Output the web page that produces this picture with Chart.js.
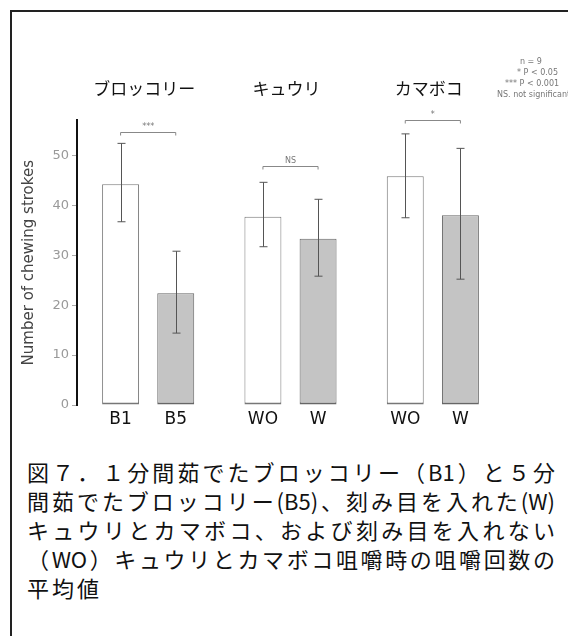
<!DOCTYPE html>
<html lang="ja">
<head>
<meta charset="utf-8">
<script src="https://cdn.jsdelivr.net/npm/chart.js@4/dist/chart.umd.min.js"></script>
<style>
  body { margin: 0; width: 568px; height: 636px; overflow: hidden; background: #fff; position: relative; }
  #frame { position: absolute; left: 10px; top: 10px; width: 600px; height: 700px; border: 2px solid #222; }
  #wrap { position: absolute; left: 0; top: 0; width: 568px; height: 440px; }
  .note { position: absolute; font: 8px "DejaVu Sans", sans-serif; color: #777; white-space: nowrap; }
  #caption { position: absolute; left: 27px; top: 457px; width: 528px; font: 22px "Noto Sans CJK JP", sans-serif; line-height: 29px; color: #111; }
  #caption div { text-align: justify; text-align-last: justify; white-space: nowrap; }
  #caption div.last { text-align-last: left; letter-spacing: 3px; }
</style>
</head>
<body>
<div id="frame"></div>
<div id="wrap"><canvas id="chewChart" width="568" height="440"></canvas></div>
<div id="notes"></div>
<div id="caption"></div>
<script>
// chart data
const groups = ['ブロッコリー', 'キュウリ', 'カマボコ'];
const labelsA = ['B1', 'WO', 'WO'];
const labelsB = ['B5', 'W', 'W'];
const meansA = [44.2, 37.7, 45.8];
const meansB = [22.4, 33.3, 38.0];
const errHiA = [52.4, 44.6, 54.3];
const errLoA = [36.7, 31.7, 37.5];
const errHiB = [30.8, 41.2, 51.4];
const errLoB = [14.4, 25.8, 25.2];
const sigMarks = ['***', 'NS', '*'];
const sigLevels = [54.7, 47.8, 57.0];
const notes = ['n = 9', '* P < 0.05', '*** P < 0.001', 'NS. not significant'];
const captionLines = [
    '図７．１分間茹でたブロッコリー（B1）と５分',
    '間茹でたブロッコリー(B5)、刻み目を入れた(W)',
    'キュウリとカマボコ、および刻み目を入れない',
    '（WO）キュウリとカマボコ咀嚼時の咀嚼回数の',
    '平均値'
];

// notes at top right
const notePos = [[520, 57], [517, 68], [505, 79], [497, 90]];
notes.forEach((t, i) => {
    const d = document.createElement('div');
    d.className = 'note';
    d.style.left = notePos[i][0] + 'px';
    d.style.top = notePos[i][1] + 'px';
    d.textContent = t;
    document.getElementById('notes').appendChild(d);
});

captionLines.forEach((t, i) => {
    const d = document.createElement('div');
    if (i === captionLines.length - 1) d.className = 'last';
    d.textContent = t;
    document.getElementById('caption').appendChild(d);
});

const errHi = [errHiA, errHiB];
const errLo = [errLoA, errLoB];
const barLabels = [labelsA, labelsB];

const extrasPlugin = {
    id: 'extras',
    afterDatasetsDraw(chart) {
        const ctx = chart.ctx;
        const y = chart.scales.y;
        ctx.save();
        // error bars
        ctx.strokeStyle = '#555';
        ctx.lineWidth = 1;
        [0, 1].forEach(d => {
            chart.getDatasetMeta(d).data.forEach((bar, i) => {
                const x = Math.round(bar.x) + 0.5;
                const yt = y.getPixelForValue(errHi[d][i]);
                const yb = y.getPixelForValue(errLo[d][i]);
                ctx.beginPath();
                ctx.moveTo(x, yt); ctx.lineTo(x, yb);
                ctx.moveTo(x - 4, yt); ctx.lineTo(x + 4, yt);
                ctx.moveTo(x - 4, yb); ctx.lineTo(x + 4, yb);
                ctx.stroke();
            });
        });
        // significance brackets
        ctx.strokeStyle = '#888';
        ctx.fillStyle = '#777';
        ctx.font = '8px "DejaVu Sans"';
        ctx.textAlign = 'center';
        ctx.textBaseline = 'bottom';
        groups.forEach((g, i) => {
            const x1 = chart.getDatasetMeta(0).data[i].x;
            const x2 = chart.getDatasetMeta(1).data[i].x;
            const yl = Math.round(y.getPixelForValue(sigLevels[i])) + 0.5;
            ctx.beginPath();
            ctx.moveTo(x1, yl + 3); ctx.lineTo(x1, yl);
            ctx.lineTo(x2, yl); ctx.lineTo(x2, yl + 3);
            ctx.stroke();
            ctx.fillText(sigMarks[i], (x1 + x2) / 2, yl - 2);
        });
        // per-bar labels under the bars
        ctx.fillStyle = '#111';
        ctx.font = '17px "DejaVu Sans"';
        ctx.textBaseline = 'middle';
        [0, 1].forEach(d => {
            chart.getDatasetMeta(d).data.forEach((bar, i) => {
                ctx.fillText(barLabels[d][i], bar.x, y.bottom + 15);
            });
        });
        ctx.restore();
    }
};

const ctx = document.getElementById('chewChart').getContext('2d');
new Chart(ctx, {
    type: 'bar',
    data: {
        labels: groups,
        datasets: [{
            label: 'without',
            data: meansA,
            backgroundColor: '#ffffff',
            borderColor: '#777',
            borderWidth: { top: 1, left: 1, right: 1, bottom: 2 },
            borderSkipped: false,
            categoryPercentage: 0.775,
            barPercentage: 0.67
        }, {
            label: 'with',
            data: meansB,
            backgroundColor: '#c4c4c4',
            borderColor: '#666',
            borderWidth: { top: 1, left: 1, right: 1, bottom: 2 },
            borderSkipped: false,
            categoryPercentage: 0.775,
            barPercentage: 0.67
        }]
    },
    options: {
        responsive: false,
        animation: false,
        layout: { padding: { left: 20, right: 64, top: 56, bottom: 35 } },
        plugins: { legend: { display: false }, tooltip: { enabled: false } },
        scales: {
            x: { display: false },
            xTop: {
                type: 'category',
                position: 'top',
                labels: groups,
                grid: { display: false, drawTicks: false },
                border: { display: false },
                ticks: { color: '#111', font: { family: 'Noto Sans CJK JP', size: 17 }, padding: 22, labelOffset: -4 }
            },
            y: {
                min: 0,
                max: 57,
                afterBuildTicks: scale => { scale.ticks = scale.ticks.filter(t => t.value % 10 === 0); },
                afterFit: scale => { scale.width = 57; },
                ticks: { stepSize: 10, color: '#999', font: { family: 'DejaVu Sans', size: 13 }, padding: 3 },
                grid: { drawOnChartArea: false, tickLength: 5, color: '#aaa' },
                border: { color: '#111', width: 2 },
                title: {
                    display: true,
                    text: 'Number of chewing strokes',
                    color: '#444',
                    font: { family: 'DejaVu Sans', size: 15 },
                    padding: { top: 0, bottom: 4 }
                }
            }
        }
    },
    plugins: [extrasPlugin]
});
</script>
</body>
</html>
